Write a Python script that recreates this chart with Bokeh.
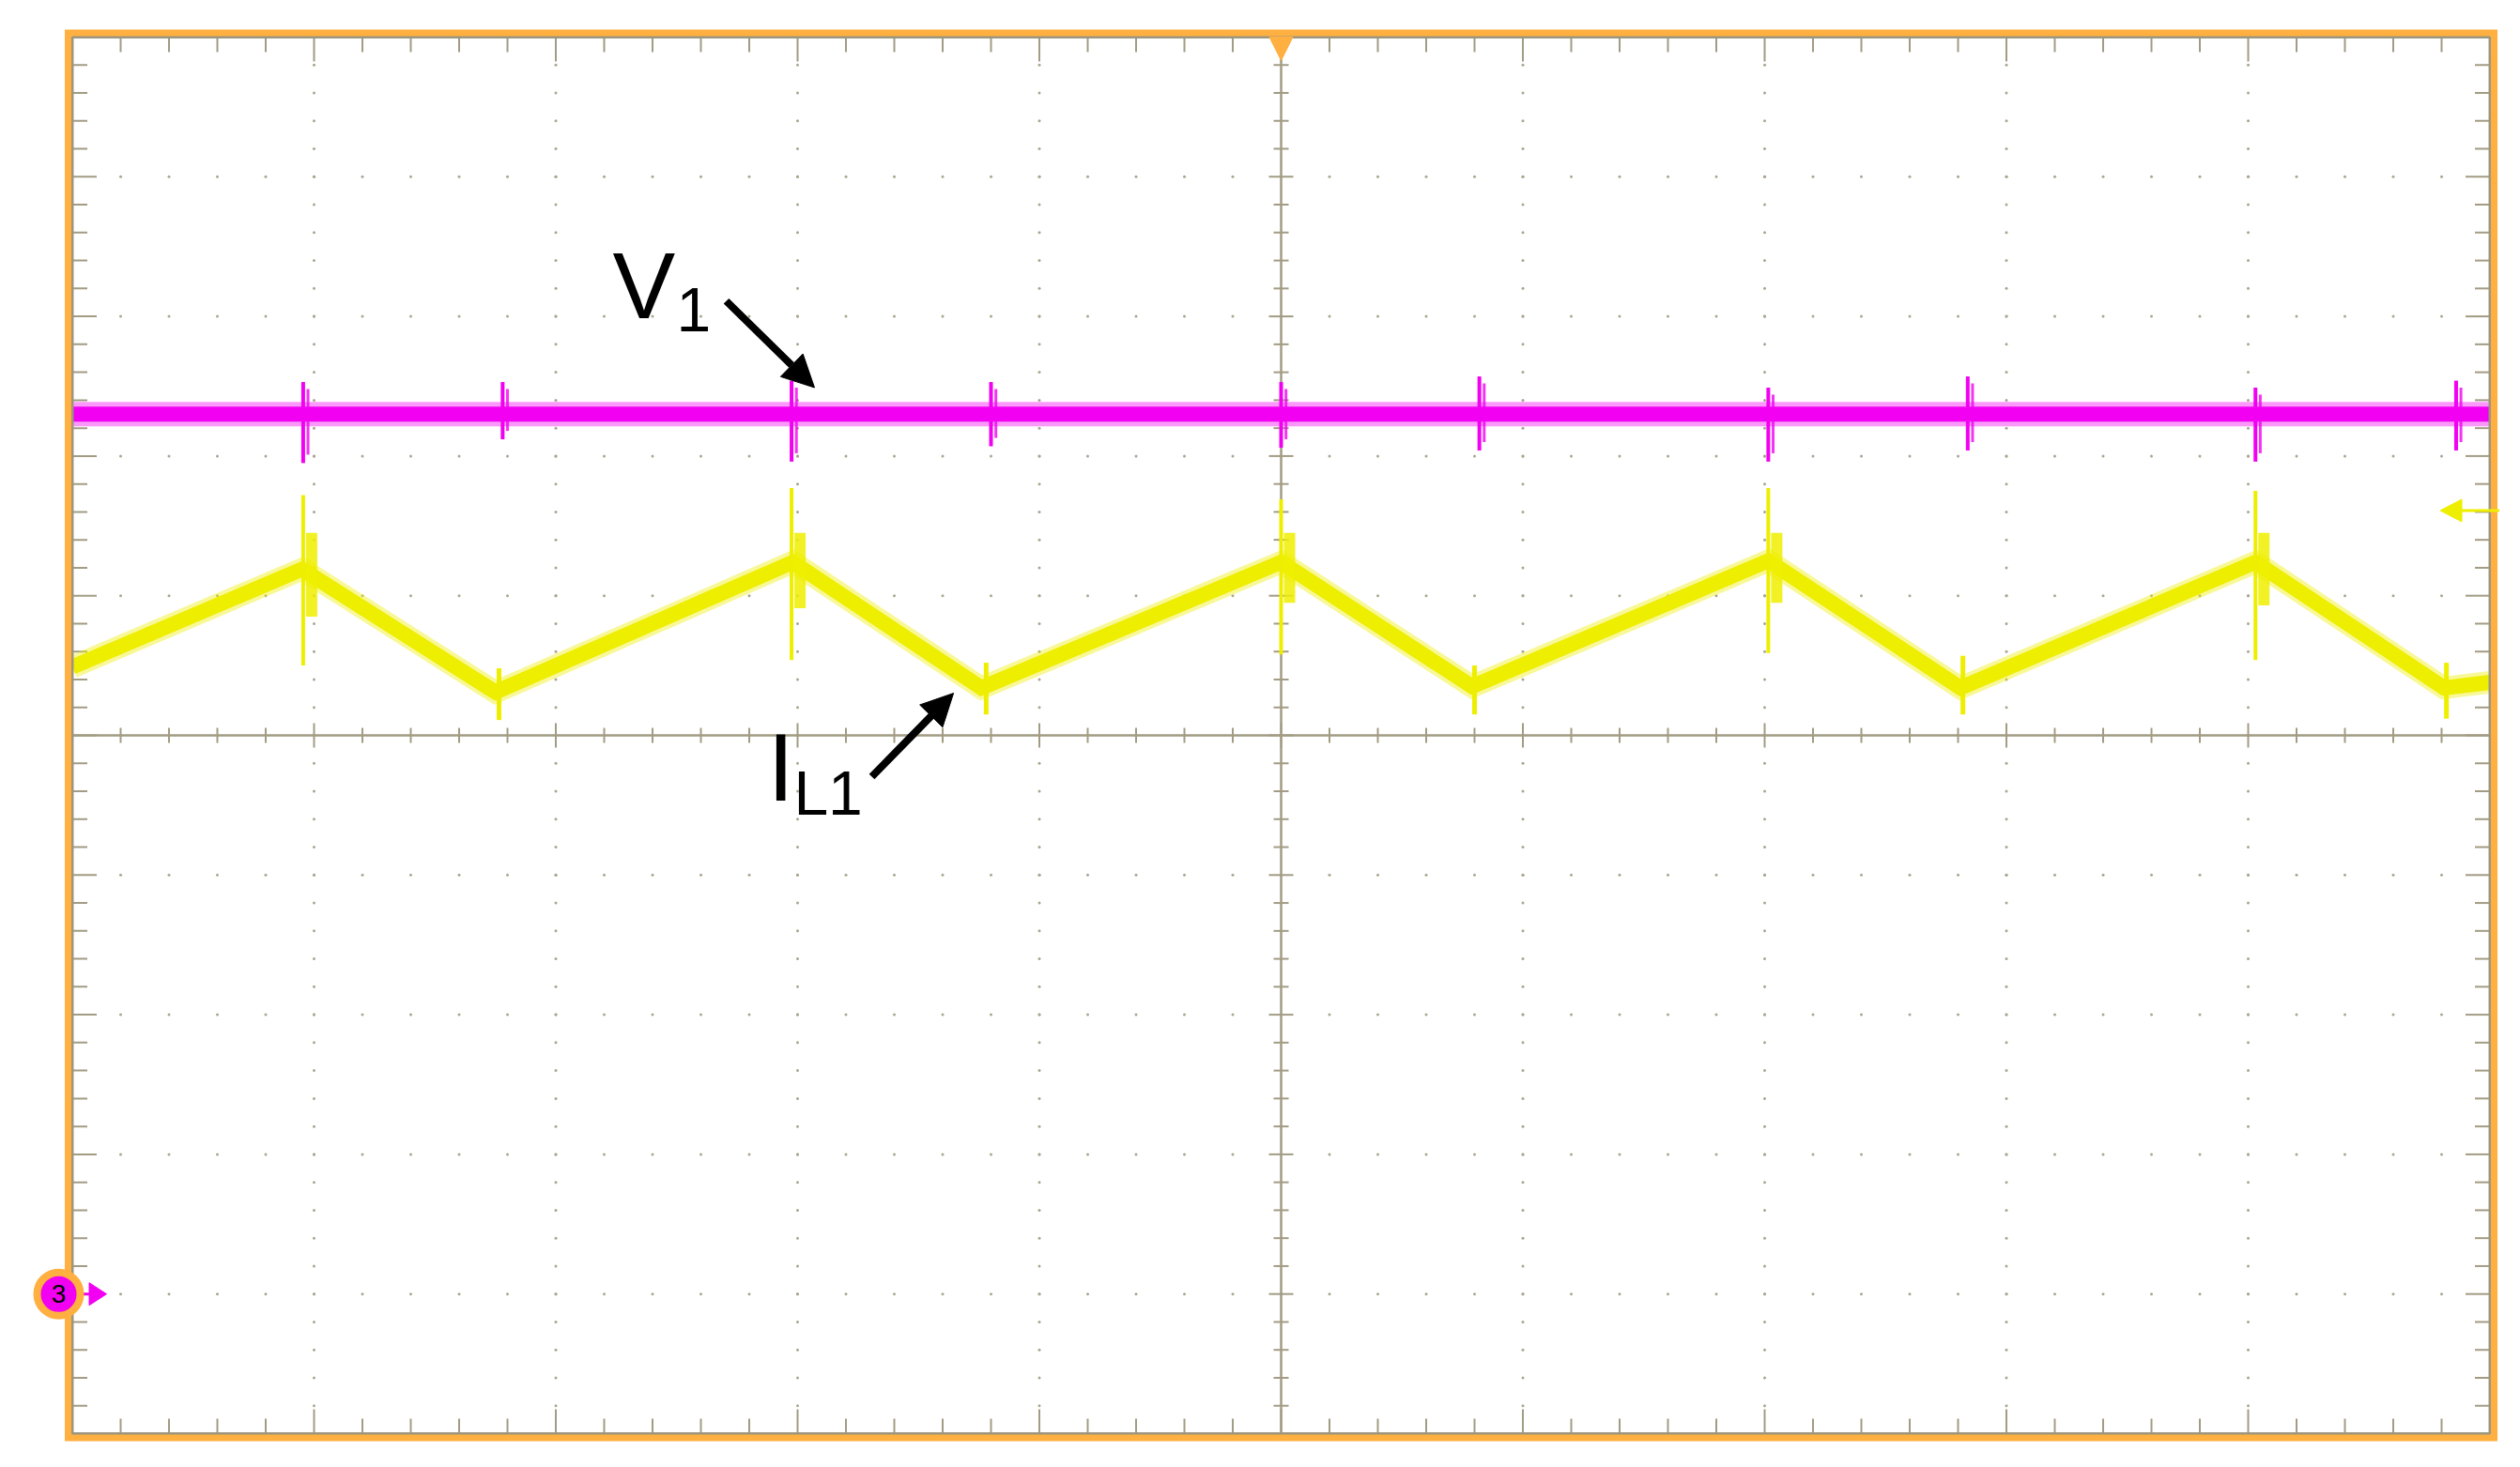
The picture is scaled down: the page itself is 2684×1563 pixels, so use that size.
import numpy as np
from bokeh.plotting import figure
from bokeh.models import Range1d, Arrow, NormalHead
from bokeh.core.properties import value
from bokeh.embed import file_html
from bokeh.resources import INLINE

# ---------------- data (screen divisions: x 0..10 left->right, y -5..5, 0 = centre) ----------------
il1_x = [0.0, 0.95, 1.75, 2.98, 3.76, 5.0, 5.79, 7.015, 7.81, 9.03, 9.81, 10.0]
il1_y = [0.49, 1.19, 0.31, 1.24, 0.34, 1.24, 0.35, 1.25, 0.34, 1.24, 0.34, 0.38]

il1_spike_x = [0.955, 2.975, 5.0, 7.015, 9.03]
il1_spike_top = [1.72, 1.77, 1.69, 1.77, 1.75]
il1_spike_bot = [0.50, 0.54, 0.58, 0.59, 0.54]
il1_ring_top = [1.45, 1.45, 1.45, 1.45, 1.45]
il1_ring_bot = [0.85, 0.91, 0.95, 0.95, 0.93]

il1_dip_x = [1.765, 3.78, 5.80, 7.82, 9.82]
il1_dip_top = [0.48, 0.52, 0.50, 0.57, 0.52]
il1_dip_bot = [0.11, 0.15, 0.15, 0.15, 0.12]

v1_x = [0.0, 10.0]
v1_y = [2.30, 2.30]
v1_spike_x = [0.955, 1.78, 2.975, 3.80, 5.0, 5.82, 7.015, 7.84, 9.03, 9.86]
v1_spike_top = [2.53, 2.53, 2.54, 2.53, 2.53, 2.57, 2.49, 2.57, 2.49, 2.54]
v1_spike_bot = [1.95, 2.12, 1.96, 2.07, 2.06, 2.04, 1.96, 2.04, 1.96, 2.04]

ch3_ref_level = -4.0
ch1_ref_level = 1.61
trigger_pos = 5.0

# ---------------- geometry ----------------
W, H = 2668, 1547
PX_X = 257.5   # px per horizontal division
PX_Y = 148.8   # px per vertical division
X_REF0, Y_REF0, OFF = 76.5, 783.0, 0.0

x_start = (OFF - X_REF0) / PX_X
x_end = (OFF + W - X_REF0) / PX_X
y_end = (Y_REF0 - OFF) / PX_Y
y_start = (Y_REF0 - OFF - H) / PX_Y

GRID = "#A29C84"
DOT = "#ABA590"
ORANGE = "#FFB040"
YELLOW = "#EEEE00"
MAGENTA = "#F200F2"

p = figure(width=W, height=H, output_backend="svg", toolbar_location=None,
           x_range=Range1d(x_start, x_end), y_range=Range1d(y_start, y_end),
           x_axis_type=None, y_axis_type=None, min_border=0)
p.outline_line_color = None
p.background_fill_color = "white"
p.border_fill_color = "white"

# ---- dotted major graticule ----
minor = np.arange(1, 50) * 0.2
is_major = (np.arange(1, 50) % 5 == 0)
majors = [k for k in range(1, 10) if k != 5]
dx, dy = [], []
for k in majors:
    dx += [float(k)] * len(minor)
    dy += list(minor - 5)
    dx += list(minor)
    dy += [float(k - 5)] * len(minor)
p.scatter(dx, dy, size=3, color=DOT, line_color=None)

# ---- centre axes ----
p.segment(x0=[0, 5], y0=[0, -5], x1=[10, 5], y1=[0, 5], line_color=GRID, line_width=2.5)
hlen = np.where(is_major, 13, 8)
p.segment(x0=minor, y0=-hlen / PX_Y, x1=minor, y1=hlen / PX_Y, line_color=GRID, line_width=2)
p.segment(x0=5 - hlen / PX_X, y0=minor - 5, x1=5 + hlen / PX_X, y1=minor - 5, line_color=GRID, line_width=2)

# ---- frame ticks ----
tlen = np.where(is_major, 26, 16)
p.segment(x0=minor, y0=np.full(49, 5.0), x1=minor, y1=5 - tlen / PX_Y, line_color=GRID, line_width=2)
p.segment(x0=minor, y0=np.full(49, -5.0), x1=minor, y1=-5 + tlen / PX_Y, line_color=GRID, line_width=2)
p.segment(x0=np.zeros(49), y0=minor - 5, x1=tlen / PX_X, y1=minor - 5, line_color=GRID, line_width=2)
p.segment(x0=np.full(49, 10.0), y0=minor - 5, x1=10 - tlen / PX_X, y1=minor - 5, line_color=GRID, line_width=2)

# ---- V1 (magenta) ----
p.line(v1_x, v1_y, line_color=MAGENTA, line_width=26, line_alpha=0.4)
p.line(v1_x, v1_y, line_color=MAGENTA, line_width=16)
p.segment(x0=v1_spike_x, y0=v1_spike_bot, x1=v1_spike_x, y1=v1_spike_top, line_color=MAGENTA, line_width=4)
v1_ring_x = [v + 0.02 for v in v1_spike_x]
p.segment(x0=v1_ring_x, y0=[b + 0.06 for b in v1_spike_bot], x1=v1_ring_x, y1=[t - 0.05 for t in v1_spike_top],
          line_color=MAGENTA, line_width=3, line_alpha=0.8)

# ---- IL1 (yellow) ----
p.line(il1_x, il1_y, line_color=YELLOW, line_width=24, line_alpha=0.4, line_join="miter")
p.line(il1_x, il1_y, line_color=YELLOW, line_width=16, line_join="miter")
p.segment(x0=il1_spike_x, y0=il1_spike_bot, x1=il1_spike_x, y1=il1_spike_top, line_color=YELLOW, line_width=4)
ring_x = [v + 0.035 for v in il1_spike_x]
p.segment(x0=ring_x, y0=il1_ring_bot, x1=ring_x, y1=il1_ring_top, line_color=YELLOW, line_width=12, line_alpha=0.85)
p.segment(x0=il1_dip_x, y0=il1_dip_bot, x1=il1_dip_x, y1=il1_dip_top, line_color=YELLOW, line_width=5)

# ---- frame ----
p.quad(left=[0], right=[10], top=[5], bottom=[-5], fill_color=None, line_color="#9C967E", line_width=3)
ox, oy = 4.5 / PX_X, 4.5 / PX_Y
p.quad(left=[-ox], right=[10 + ox], top=[5 + oy], bottom=[-5 - oy], fill_color=None,
       line_color=ORANGE, line_width=7, line_join="miter")

# ---- trigger marker (top) ----
tw = 12.5 / PX_X
p.patch([trigger_pos - tw, trigger_pos + tw, trigger_pos], [5.0, 5.0, 5.0 - 25 / PX_Y],
        fill_color=ORANGE, line_color=ORANGE)

# ---- ch1 level marker (right, yellow) ----
tip = 10 - 53 / PX_X
hb = tip + 23 / PX_X
hh = 12 / PX_Y
p.patch([tip, hb, hb], [ch1_ref_level, ch1_ref_level + hh, ch1_ref_level - hh],
        fill_color=YELLOW, line_color=YELLOW)
p.segment(x0=[hb], y0=[ch1_ref_level], x1=[10 + 10 / PX_X], y1=[ch1_ref_level], line_color=YELLOW, line_width=3)

# ---- ch3 level marker (left, magenta) ----
cx = -14.5 / PX_X
p.segment(x0=[cx], y0=[ch3_ref_level], x1=[18 / PX_X], y1=[ch3_ref_level], line_color=MAGENTA, line_width=3)
p.patch([18 / PX_X, 18 / PX_X, 36.5 / PX_X], [ch3_ref_level + hh, ch3_ref_level - hh, ch3_ref_level],
        fill_color=MAGENTA, line_color=MAGENTA)
p.scatter([cx], [ch3_ref_level], size=46, fill_color=MAGENTA, line_color=ORANGE, line_width=8)
p.text([cx], [ch3_ref_level], text=["3"], text_align="center", text_baseline="middle",
       text_font=value("Liberation Sans"), text_font_size=value("28px"), text_color="black")

# ---- annotations ----
FONT = value("Liberation Sans")
p.text([2.235], [2.99 + 0.235], text=["V"], text_font=FONT, text_font_size=value("100px"),
       text_baseline="alphabetic", text_align="left", text_color="black")
p.text([2.499], [2.89 + 0.155], text=["1"], text_font=FONT, text_font_size=value("66px"),
       text_baseline="alphabetic", text_align="left", text_color="black")
p.text([2.876], [-0.47 + 0.24], text=["I"], text_font=FONT, text_font_size=value("102px"),
       text_baseline="alphabetic", text_align="left", text_color="black")
p.text([2.984], [-0.565 + 0.155], text=["L1"], text_font=FONT, text_font_size=value("66px"),
       text_baseline="alphabetic", text_align="left", text_color="black")

p.add_layout(Arrow(end=NormalHead(size=34, fill_color="black", line_color="black"),
                   x_start=2.705, y_start=3.11, x_end=3.07, y_end=2.49,
                   line_color="black", line_width=8))
p.add_layout(Arrow(end=NormalHead(size=34, fill_color="black", line_color="black"),
                   x_start=3.307, y_start=-0.296, x_end=3.645, y_end=0.302,
                   line_color="black", line_width=8))

open("out.html", "w").write(file_html(p, INLINE))
